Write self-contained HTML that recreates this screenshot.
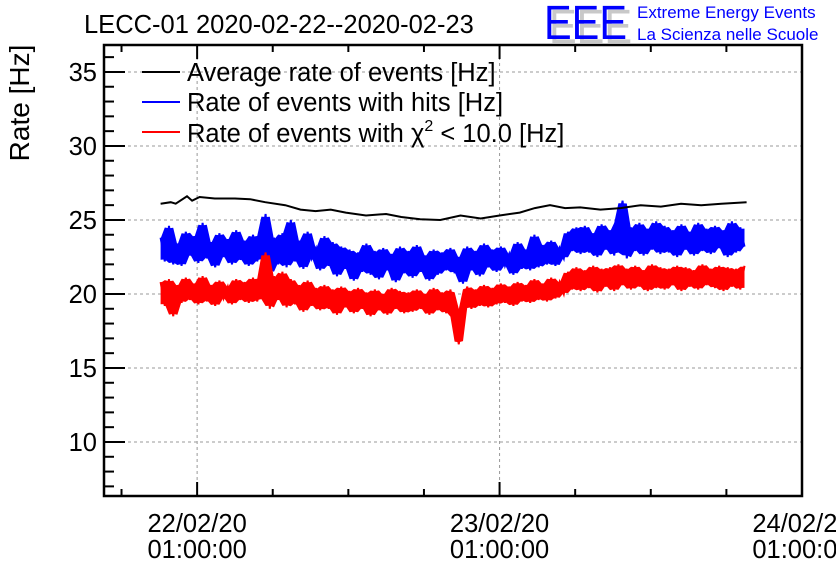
<!DOCTYPE html>
<html><head><meta charset="utf-8"><style>
body{margin:0;background:#fff;}
svg{display:block;font-family:"Liberation Sans",sans-serif;}
</style></head><body>
<svg id="c" width="836" height="572" viewBox="0 0 836 572">
<rect width="836" height="572" fill="#fff"/>
<text x="84" y="33" font-size="25.5" fill="#000">LECC-01 2020-02-22--2020-02-23</text>
<g>
<text x="549" y="43" font-size="48" fill="#c8c8c8" textLength="83" lengthAdjust="spacingAndGlyphs">EEE</text>
<text x="544" y="39" font-size="48" fill="#0000ff" textLength="83" lengthAdjust="spacingAndGlyphs">EEE</text>
<text x="637" y="18" font-size="17" fill="#0000ff">Extreme Energy Events</text>
<text x="637" y="40" font-size="17" fill="#0000ff">La Scienza nelle Scuole</text>
</g>
<text transform="translate(29,103) rotate(-90)" text-anchor="middle" font-size="28">Rate [Hz]</text>
<g id="grid"></g>
<g id="series"></g>
<rect x="104" y="45" width="698" height="451" fill="none" stroke="#000" stroke-width="2.5"/>
<g id="axes"></g>
<g>
<g><line x1="142" y1="72" x2="180" y2="72" stroke="#000" stroke-width="2"/><text x="187" y="81" font-size="25.5">Average rate of events [Hz]</text></g>
<g><line x1="142" y1="102" x2="180" y2="102" stroke="#0000ff" stroke-width="2"/><text x="187" y="111" font-size="25.5">Rate of events with hits [Hz]</text></g>
<g><line x1="142" y1="132" x2="180" y2="132" stroke="#ff0000" stroke-width="2"/><text x="187" y="142" font-size="25.5">Rate of events with χ<tspan dy="-11" font-size="16">2</tspan><tspan dy="11"> &lt; 10.0 [Hz]</tspan></text></g>
</g>
</svg>
<script>
const yTicks=[10,15,20,25,30,35];
const xTickHours=[0,24,48];
const xTickLabels1=["22/02/20","23/02/20","24/02/20"];
const xTickLabels2=["01:00:00","01:00:00","01:00:00"];
const blueRate=[23.8,22.2,24.6,22.0,23.4,21.9,24.2,22.6,23.9,22.1,24.8,22.4,23.5,21.8,24.1,22.5,23.7,22.0,24.3,22.3,
23.6,21.9,24.0,22.2,23.3,25.4,21.4,23.8,22.0,24.1,21.8,25.0,22.2,23.6,21.7,24.2,22.4,23.1,21.6,23.9,
21.9,23.5,21.2,23.2,21.7,23.0,20.9,22.8,21.5,23.4,21.3,22.9,21.0,23.1,21.6,22.7,20.8,23.2,21.4,22.9,
21.1,23.3,21.5,22.6,20.9,23.0,21.3,22.8,21.6,23.1,21.4,22.5,20.7,23.2,21.6,22.9,21.2,23.4,21.8,23.0,
21.5,23.2,21.9,22.7,21.3,23.5,21.7,23.0,21.6,24.0,21.8,23.3,22.0,23.6,21.9,23.1,22.4,24.2,22.9,24.5,
22.7,24.6,22.8,24.1,22.5,24.7,23.0,24.3,22.6,24.9,26.3,22.4,24.5,22.9,24.8,22.6,24.4,23.0,24.9,22.7,
24.6,22.8,24.3,22.5,24.7,23.0,24.2,22.6,24.8,22.9,24.4,22.7,24.6,23.1,24.3,22.5,24.9,22.8,24.5,23.2];
const redRate=[20.8,19.2,21.0,18.5,20.6,19.4,21.1,19.6,20.7,19.3,21.2,19.5,20.6,19.2,20.9,19.7,20.5,19.3,21.0,19.6,
20.8,19.4,21.1,19.5,20.7,22.8,19.0,21.2,19.6,21.5,19.1,21.0,19.3,20.6,18.8,20.9,19.2,20.4,18.9,20.6,
19.0,20.3,18.6,20.5,19.1,20.2,18.7,20.4,19.0,20.1,18.5,20.3,18.9,20.0,18.6,20.4,19.0,20.2,18.7,20.1,
18.8,20.3,19.0,20.0,18.6,20.4,18.9,20.1,18.7,20.3,18.4,16.6,19.1,20.5,19.0,20.3,19.2,20.6,19.1,20.4,
19.3,20.7,19.4,20.5,19.2,20.8,19.5,20.6,19.4,21.0,19.6,20.7,19.5,21.1,19.7,20.8,20.0,21.5,20.3,21.8,
20.2,21.6,20.4,21.9,20.1,21.7,20.5,21.8,20.2,22.0,20.6,21.7,20.3,21.9,20.5,21.6,20.2,22.0,20.4,21.8,
20.3,21.7,20.6,21.9,20.2,21.8,20.5,21.6,20.3,22.0,20.6,21.7,20.4,21.9,20.2,21.8,20.5,21.7,20.3,21.9];
const noisyStartHour=-2.9;
const noisyStepHour=1/3;
const avgHours=[-2.9,-2.1,-1.7,-0.8,-0.4,0.2,1.4,3.0,4.2,5.4,7.0,8.2,9.4,10.6,11.8,13.4,15.0,16.2,17.7,19.3,20.9,22.5,24.0,25.6,26.8,28.0,29.2,30.4,32.0,33.6,35.2,36.8,38.4,40.0,41.6,43.6];
const avgRate=[26.1,26.2,26.1,26.6,26.3,26.55,26.45,26.45,26.4,26.2,26.0,25.7,25.6,25.7,25.5,25.3,25.4,25.2,25.05,25.0,25.3,25.1,25.3,25.5,25.8,26.0,25.8,25.85,25.7,25.8,26.0,25.9,26.1,26.0,26.1,26.2];

const NS="http://www.w3.org/2000/svg";
const X0=104,X1=802,Y0=45,Y1=496;
const xMin=-7.39,xMax=48,yMin=6.35,yMax=36.82;
const xs=h=>X0+(h-xMin)/(xMax-xMin)*(X1-X0);
const ys=v=>Y1-(v-yMin)/(yMax-yMin)*(Y1-Y0);
function mk(tag,attrs,parent){const e=document.createElementNS(NS,tag);for(const k in attrs)e.setAttribute(k,attrs[k]);parent.appendChild(e);return e;}
const grid=document.getElementById('grid'),axes=document.getElementById('axes'),series=document.getElementById('series');
yTicks.forEach(v=>{
 const l=mk('line',{x1:X0,x2:X1,y1:ys(v),y2:ys(v),stroke:'#999','stroke-dasharray':'3,3','stroke-width':1},grid);
 
 
 const t=mk('text',{x:97,y:ys(v)+9,'text-anchor':'end','font-size':25.5},axes);
 t.textContent=v;
 
 
});
for(let v=7;v<=36;v++){
 const major=v%5===0;
 mk('line',{x1:X0,x2:X0+(major?21:10),y1:ys(v),y2:ys(v),stroke:'#000','stroke-width':2},axes);
}
xTickHours.forEach((h,i)=>{
 const x=xs(h);
 if(h<48){const l=mk('line',{x1:x,x2:x,y1:Y0,y2:Y1,stroke:'#999','stroke-dasharray':'3,3','stroke-width':1},grid);
 
 }
 const g=mk('g',{},axes);
 
 
 const t1=mk('text',{x:x,y:532,'text-anchor':'middle','font-size':25.5},g);t1.textContent=xTickLabels1[i];
 const t2=mk('text',{x:x,y:558,'text-anchor':'middle','font-size':25.5},g);t2.textContent=xTickLabels2[i];
});
for(let h=-6;h<=48;h+=6){
 const major=h%24===0;
 mk('line',{x1:xs(h),x2:xs(h),y1:Y1,y2:Y1-(major?14:7),stroke:'#000','stroke-width':2},axes);
 mk('line',{x1:xs(h),x2:xs(h),y1:Y0,y2:Y0+(major?14:7),stroke:'#000','stroke-width':2},axes);
}
function band(hours,vals,color,name){
 const up=[],lo=[];
 for(let i=0;i<vals.length;i++){
  const a=vals[Math.max(0,i-1)],b=vals[i],c=vals[Math.min(vals.length-1,i+1)];
  const m=(a+b+c)/3,mx=Math.max(a,b,c),mn=Math.min(a,b,c);
  up.push(m+(mx-m)*0.9);lo.push(m-(m-mn)*0.9);
 }
 const pts=up.map((v,i)=>xs(hours[i]).toFixed(1)+','+ys(v).toFixed(1)).concat(lo.map((v,i)=>xs(hours[i]).toFixed(1)+','+ys(v).toFixed(1)).reverse());
 const p=mk('polygon',{points:pts.join(' '),fill:color,stroke:'none'},series);
 
 
}
function poly(hours,vals,color,name,w){
 const p=mk('polyline',{points:vals.map((v,i)=>xs(hours[i]).toFixed(1)+','+ys(v).toFixed(1)).join(' '),fill:'none',stroke:color,'stroke-width':w,'stroke-linejoin':'miter'},series);
 
 
}
const nh=blueRate.map((_,i)=>noisyStartHour+i*noisyStepHour);
band(nh,blueRate,'#0000ff','series-hits');
poly(nh,blueRate,'#0000ff','series-hits',2);
band(nh,redRate,'#ff0000','series-chi2');
poly(nh,redRate,'#ff0000','series-chi2',2);
poly(avgHours,avgRate,'#000','series-average',2);
</script>
</body></html>
